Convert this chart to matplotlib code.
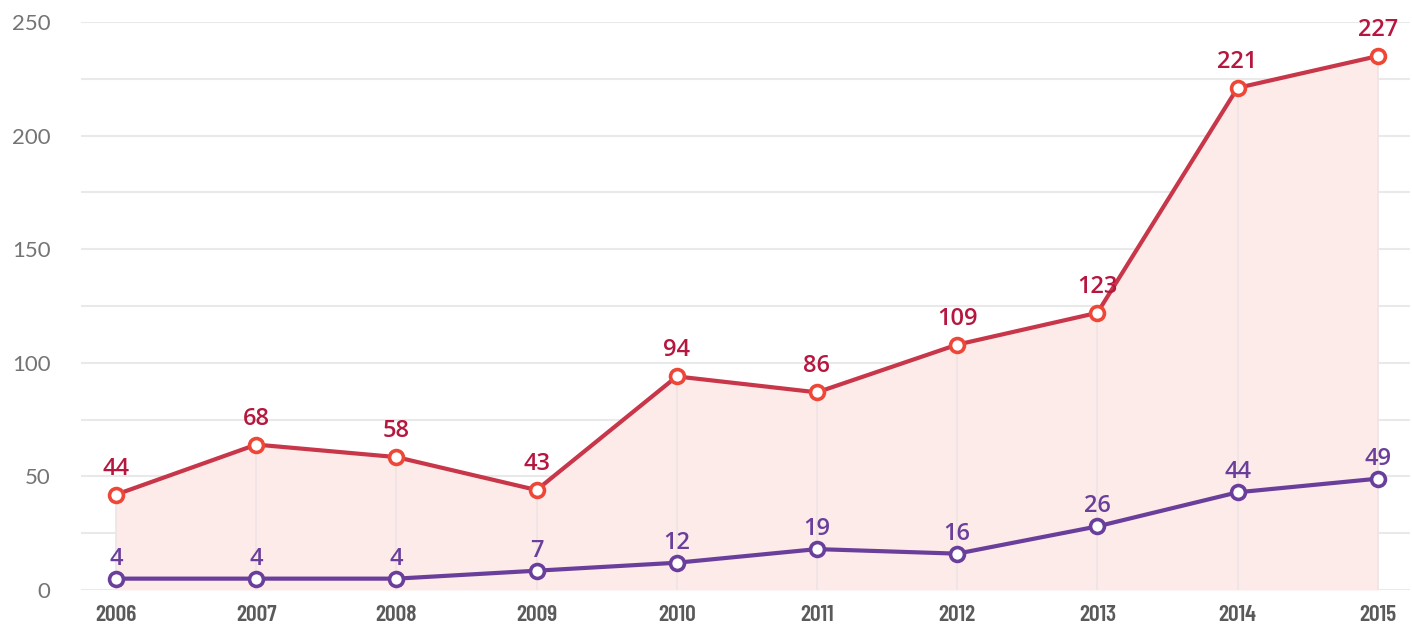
"""
Line chart: two yearly series with a shaded area under the upper one.
"""

import matplotlib.pyplot as plt
import numpy as np

years = [2006, 2007, 2008, 2009, 2010, 2011, 2012, 2013, 2014, 2015]

# plotted positions
red_values = [42, 64, 58.5, 44, 94, 87, 108, 122, 221, 235]
purple_values = [5, 5, 5, 8.5, 12, 18, 16, 28, 43, 49]

# label texts as printed in the picture
red_labels = ["44", "68", "58", "43", "94", "86", "109", "123", "221", "227"]
purple_labels = ["4", "4", "4", "7", "12", "19", "16", "26", "44", "49"]

y_ticks = [0, 50, 100, 150, 200, 250]
grid_steps = np.arange(0, 251, 25)

RED_LINE = "#c8364a"
RED_MARK = "#ee4737"
RED_TEXT = "#b5173f"
PURPLE = "#6a3f9c"
FILL = "#fcebe9"
GRID = "#e9e9e9"

fig = plt.figure(figsize=(14.12, 6.26), dpi=100)
ax = fig.add_axes([81 / 1412, 36 / 626, 1329 / 1412, 568 / 626])

x = np.array(years)

# grid
for g in grid_steps:
    ax.axhline(g, color=GRID, linewidth=1.5, zorder=0)
ax.vlines(x, 0, red_values, color="#efe3e5", linewidth=1.2, zorder=1)

# shaded area under the red series
ax.fill_between(x, 0, red_values, color=FILL, zorder=0.5, linewidth=0)

ax.plot(x, red_values, color=RED_LINE, linewidth=3, zorder=3,
        marker="o", markersize=10, markerfacecolor="white",
        markeredgecolor=RED_MARK, markeredgewidth=2.6)
ax.plot(x, purple_values, color=PURPLE, linewidth=3, zorder=3,
        marker="o", markersize=10, markerfacecolor="white",
        markeredgecolor=PURPLE, markeredgewidth=2.6)

label_font = dict(family=["Open Sans", "DejaVu Sans"], fontsize=17, fontweight="semibold",
                  ha="center", va="baseline")
for xi, v, t in zip(x, red_values, red_labels):
    ax.annotate(t, (xi, v), xytext=(0, 14.4), textcoords="offset points",
                color=RED_TEXT, clip_on=False, **label_font)
for xi, v, t in zip(x, purple_values, purple_labels):
    ax.annotate(t, (xi, v), xytext=(0, 10), textcoords="offset points",
                color=PURPLE, clip_on=False, **label_font)

ax.set_xlim(2005.75, 2015.23)
ax.set_ylim(0, 250)

ax.set_yticks(y_ticks)
ax.set_yticklabels([str(t) for t in y_ticks], fontsize=16, color="#747474",
                   family=["Lato", "DejaVu Sans"], fontweight="normal")
ax.set_xticks(x)
ax.set_xticklabels([str(y) for y in years], fontsize=17, color="#5a5a5a",
                   family=["Barlow Condensed", "DejaVu Sans"], fontweight="semibold")
ax.tick_params(axis="y", length=0, pad=22)
ax.tick_params(axis="x", length=0, pad=11)

for s in ax.spines.values():
    s.set_visible(False)

fig.savefig("out.png", dpi=100)
